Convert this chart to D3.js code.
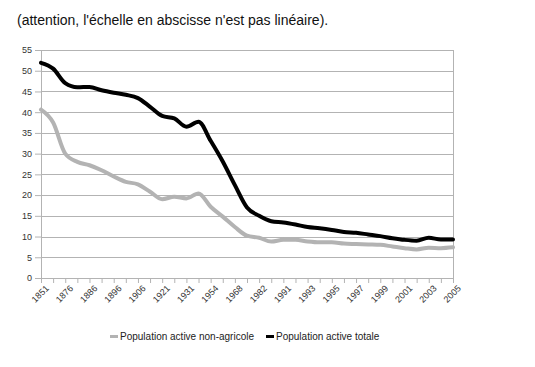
<!DOCTYPE html>
<html><head><meta charset="utf-8">
<script src="https://cdn.jsdelivr.net/npm/d3@7"></script>
<style>body{margin:0;background:#fff;}svg{display:block;font-family:"Liberation Sans",Arial,sans-serif;}</style>
</head><body>
<svg id="c" width="535" height="367"></svg>
<script>
const categories = ["1851","1866","1876","1881","1886","1891","1896","1901","1906","1911","1921","1926","1931","1936","1954","1962","1968","1975","1982","1990","1991","1992","1993","1994","1995","1996","1997","1998","1999","2000","2001","2002","2003","2004","2005"];
const tickLabels = ["1851","1876","1886","1896","1906","1921","1931","1954","1968","1982","1991","1993","1995","1997","1999","2001","2003","2005"];
const nonAgricole = [40.6,37.5,30,28,27.2,26,24.5,23.2,22.6,20.8,19,19.6,19.2,20.4,17.2,14.8,12.3,10.2,9.7,8.8,9.2,9.2,8.8,8.6,8.6,8.3,8.2,8.1,8.0,7.6,7.2,6.9,7.3,7.2,7.4];
const totale = [51.9,50.5,47,46,46.1,45.3,44.7,44.2,43.4,41.3,39.1,38.5,36.5,37.7,33.1,28.1,22.4,17,15,13.7,13.4,12.9,12.3,12.0,11.6,11.1,10.9,10.5,10.1,9.6,9.2,9.0,9.7,9.3,9.3];
const yTicks = [0,5,10,15,20,25,30,35,40,45,50,55];
const seriesNames = ["Population active non-agricole","Population active totale"];
const seriesColors = ["#b3b3b3","#000000"];

const svg = d3.select("#c");
const L = 41, R = 453, T = 50, B = 278;
const x = d3.scalePoint().domain(categories).range([L, R]);
const y = d3.scaleLinear().domain([0, 55]).range([B, T]);

svg.append("text").attr("x", 17).attr("y", 25).attr("font-size", 14).attr("fill", "#111")
  .text("(attention, l'échelle en abscisse n'est pas linéaire).");

const yAxis = d3.axisLeft(y).tickValues(yTicks).tickSize(6).tickPadding(3).tickFormat(d3.format("d"));
const gy = svg.append("g").attr("transform", `translate(${L},0)`).call(yAxis);
gy.select(".domain").attr("stroke", "#b3b3b3");
gy.selectAll(".tick line").attr("stroke", "#b3b3b3");
gy.selectAll(".tick text").attr("font-size", 9).attr("fill", "#333").attr("font-family", "Liberation Sans, Arial, sans-serif");
svg.append("g").selectAll("line").data(yTicks.filter(d => d > 0)).join("line")
  .attr("x1", L).attr("x2", R).attr("y1", d => Math.round(y(d)) + 0.5).attr("y2", d => Math.round(y(d)) + 0.5)
  .attr("stroke", "#b3b3b3");
svg.append("line").attr("x1", R + 0.5).attr("x2", R + 0.5).attr("y1", T).attr("y2", B).attr("stroke", "#b3b3b3");

const xAxis = d3.axisBottom(x).tickSize(5).tickFormat(d => tickLabels.includes(d) ? d : "");
const gx = svg.append("g").attr("transform", `translate(0,${B})`).call(xAxis);
gx.select(".domain").attr("stroke", "#b3b3b3");
gx.selectAll(".tick line").attr("stroke", "#b3b3b3");
gx.selectAll(".tick text").attr("font-size", 9).attr("fill", "#333")
  .attr("font-family", "Liberation Sans, Arial, sans-serif")
  .attr("text-anchor", "end").attr("transform", "translate(-2,1) rotate(-45)").attr("dy", "0.9em").attr("y", 6);

const line = d3.line().x((d, i) => x(categories[i])).y(d => y(d)).curve(d3.curveMonotoneX);
[nonAgricole, totale].forEach((s, k) => {
  svg.append("path").datum(s).attr("d", line).attr("fill", "none")
    .attr("stroke", seriesColors[k]).attr("stroke-width", 4).attr("stroke-linejoin", "round").attr("stroke-linecap", "round");
});

const lg = svg.append("g").attr("font-size", 10).attr("fill", "#222");
const legX = [110, 266];
seriesNames.forEach((n, k) => {
  lg.append("line").attr("x1", legX[k]).attr("x2", legX[k] + 8).attr("y1", 336.5).attr("y2", 336.5)
    .attr("stroke", seriesColors[k]).attr("stroke-width", 3);
  lg.append("text").attr("x", legX[k] + 10).attr("y", 340).text(n);
});
</script>
</body></html>
